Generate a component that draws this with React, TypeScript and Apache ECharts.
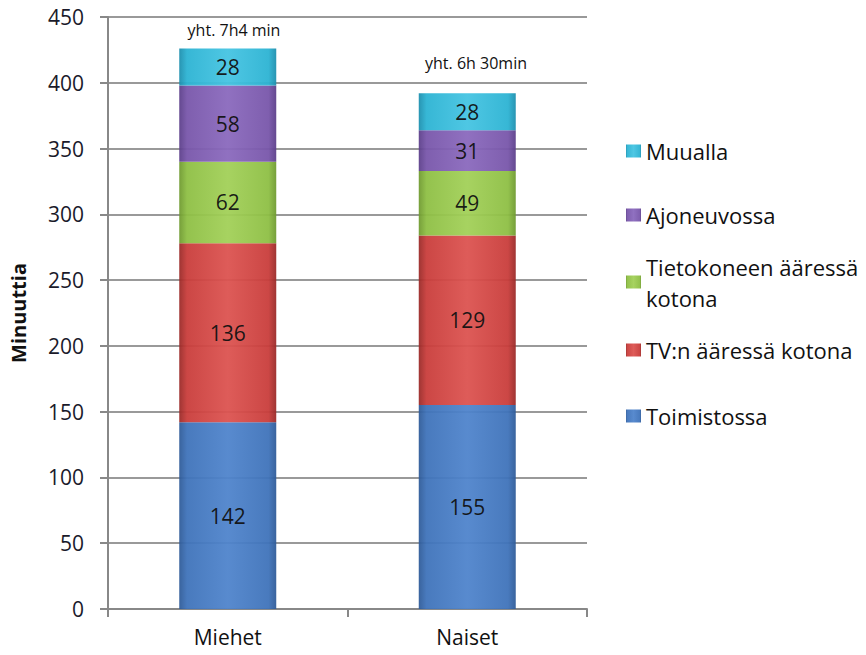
import React, { useEffect, useRef } from "react";
import * as echarts from "echarts";

const categories = ["Miehet", "Naiset"];
const seriesNames = [
  "Toimistossa",
  "TV:n ääressä kotona",
  "Tietokoneen ääressä kotona",
  "Ajoneuvossa",
  "Muualla",
];
const toimistossa = [142, 155];
const tvKotona = [136, 129];
const tietokoneKotona = [62, 49];
const ajoneuvossa = [58, 31];
const muualla = [28, 28];
const totalsText = ["yht. 7h4 min", "yht. 6h 30min"];
const yTicks = { min: 0, max: 450, interval: 50 };

const baseColors = ["#3f73ba", "#c93d3b", "#8ebf44", "#7856aa", "#2cb3d3"];
const edgeColors = ["#2f5b98", "#9a2a28", "#6f9a30", "#5c3f8a", "#1d8fae"];
const midColors = ["#4f84cc", "#dc5350", "#a2d058", "#8a69bd", "#45c4e2"];

const FONT = "'Open Sans', 'Noto Sans', sans-serif";

export default function App() {
  const ref = useRef<HTMLDivElement>(null);
  useEffect(() => {
    document.body.style.margin = "0";
    const chart = echarts.init(ref.current!, null, { renderer: "svg" });
    const data = [toimistossa, tvKotona, tietokoneKotona, ajoneuvossa, muualla];
    const series = seriesNames.map((name, i) => ({
      name,
      type: "bar",
      stack: "total",
      barWidth: 97,
      data: data[i],
      itemStyle: {
        color: new echarts.graphic.LinearGradient(0, 0, 1, 0, [
          { offset: 0, color: edgeColors[i] },
          { offset: 0.08, color: baseColors[i] },
          { offset: 0.5, color: midColors[i] },
          { offset: 0.92, color: baseColors[i] },
          { offset: 1, color: edgeColors[i] },
        ]),
        opacity: 0.95,
      },
      label: {
        show: true,
        position: "inside",
        color: "#111",
        fontSize: 21,
        fontFamily: FONT,
      },
    }));
    const legendCenters = [416, 350, 282, 215, 151];
    const legends = seriesNames.map((name, i) => {
      const multi = name === "Tietokoneen ääressä kotona";
      return {
        data: [name],
        orient: "vertical",
        left: 626,
        top: multi ? legendCenters[i] - 46.5 : legendCenters[i] - 15.5,
        padding: 0,
        itemWidth: 15,
        itemHeight: 13,
        itemGap: 0,
        selectedMode: false,
        formatter: multi ? () => "Tietokoneen ääressä\nkotona" : undefined,
        textStyle: {
          fontSize: 22,
          fontFamily: FONT,
          color: "#111",
          lineHeight: 31,
          padding: multi ? [31, 0, 0, 0] : 0,
        },
        icon: "rect",
      };
    });
    chart.setOption({
      animation: false,
      color: baseColors,
      grid: { left: 106, right: 279, top: 17, bottom: 46 },
      legend: legends,
      xAxis: {
        type: "category",
        data: categories,
        axisLine: { lineStyle: { color: "#888", width: 2 } },
        axisTick: { show: true, length: 8, lineStyle: { color: "#888", width: 2 } },
        axisLabel: { fontSize: 21, color: "#111", fontFamily: FONT, margin: 17 },
      },
      yAxis: {
        type: "value",
        min: yTicks.min,
        max: yTicks.max,
        interval: yTicks.interval,
        name: "Minuuttia",
        nameLocation: "middle",
        nameRotate: 90,
        nameGap: 80,
        nameTextStyle: { fontSize: 20, fontWeight: "bold", color: "#111", fontFamily: FONT },
        axisLine: { show: true, lineStyle: { color: "#888", width: 2 } },
        axisTick: { show: true, length: 8, lineStyle: { color: "#888", width: 2 } },
        axisLabel: { fontSize: 21, color: "#1a1a2a", fontFamily: FONT, margin: 24 },
        splitLine: { lineStyle: { color: "#999", width: 2 } },
      },
      graphic: [
        {
          type: "text",
          x: 234,
          y: 30,
          style: {
            text: totalsText[0],
            fontSize: 16,
            fontFamily: FONT,
            fill: "#111",
            align: "center",
            verticalAlign: "middle",
          },
        },
        {
          type: "text",
          x: 476,
          y: 63,
          style: {
            text: totalsText[1],
            fontSize: 16,
            fontFamily: FONT,
            fill: "#111",
            align: "center",
            verticalAlign: "middle",
          },
        },
      ],
      series,
    });
    return () => chart.dispose();
  }, []);
  return <div ref={ref} style={{ width: 866, height: 655 }} />;
}
